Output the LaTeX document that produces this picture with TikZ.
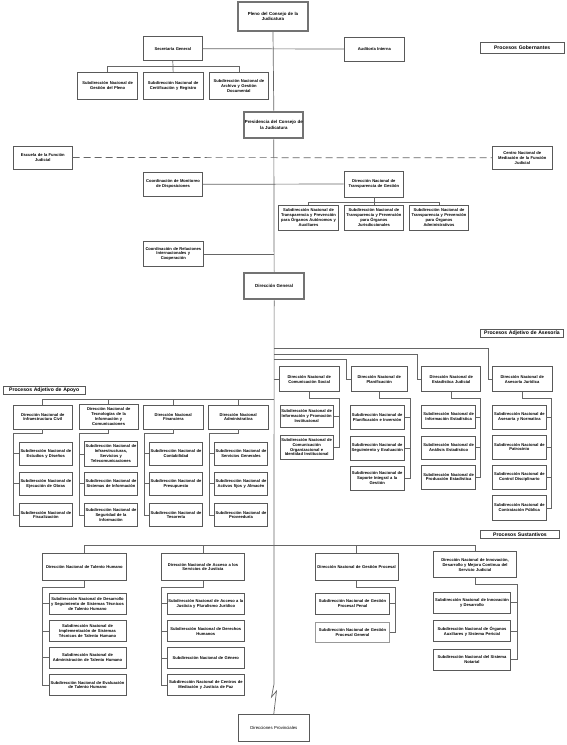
\documentclass[tikz,border=0pt]{standalone}
\usepackage{fontspec}
\setmainfont{Liberation Sans}
\tikzset{
  box/.style={draw=black!65, line width=0.8pt, fill=white, inner sep=0pt, align=center,
    font=\fontsize{4.1}{4.9}\selectfont\bfseries},
  bigbox/.style={box, line width=2pt, draw=black!55, font=\fontsize{4.4}{5.3}\selectfont\bfseries},
  lbl/.style={box, line width=0.6pt, font=\fontsize{5.1}{6}\selectfont\bfseries},
  plain/.style={font=\fontsize{4.3}{5}\selectfont},
  light/.style={draw=black!40},
  ln/.style={draw=black!60, line width=0.7pt},
  dashln/.style={ln, dash pattern=on 7pt off 4pt}
}
\newcommand\bx[7][]{%
  \pgfmathsetmacro\bxw{#5-#3}\pgfmathsetmacro\bxh{#6-#4}\pgfmathsetmacro\bxt{#5-#3-1}%
  \pgfmathsetmacro\bxcx{(#3+#5)/2}\pgfmathsetmacro\bxcy{(#4+#6)/2}%
  \node[box,#1,minimum width=\bxw pt,minimum height=\bxh pt,text width=\bxt pt] (#2) at (\bxcx,\bxcy) {#7};}
\begin{document}
\begin{tikzpicture}[x=1pt,y=-1pt]
\fill[white] (0,0) rectangle (567,745);
\useasboundingbox (0,0) rectangle (567,745);

% ---------- Gobernantes ----------
\bx[bigbox]{pleno}{238}{2}{308}{31}{Pleno del Consejo de la\\Judicatura}
\bx{sec}{143.3}{36.7}{202.3}{60.7}{Secretaría General}
\bx{aud}{344.3}{37}{404.3}{61}{Auditoría Interna}
\bx[lbl]{pgob}{480.3}{42.3}{564}{53.3}{Procesos Gobernantes}
\bx{s1}{77.7}{72.3}{137.7}{99}{Subdirección Nacional de\\Gestión del Pleno}
\bx{s2}{143.3}{72.3}{203}{99}{Subdirección Nacional de\\Certificación y Registro}
\bx{s3}{209}{72.3}{268.7}{99}{Subdirección Nacional de\\Archivo y Gestión\\Documental}

\bx[bigbox]{pres}{244.3}{111.7}{303.3}{138.3}{Presidencia del Consejo de\\la Judicatura}
\bx{esc}{13.3}{146}{72.3}{169}{Escuela de la Función\\Judicial}
\bx{cen}{492.7}{146.3}{552}{169.3}{Centro Nacional de\\Mediación de la Función\\Judicial}
\bx{cmd}{143.3}{172.3}{202.7}{196.3}{Coordinación de Monitoreo\\de Disposiciones}
\bx{dnt}{344}{171}{403.7}{197}{Dirección Nacional de\\Transparencia de Gestión}
\bx{t1}{278.7}{205.3}{338.3}{230}{Subdirección Nacional de\\Transparencia y Prevención\\para Órganos Autónomos y\\Auxiliares}
\bx{t2}{344}{205.3}{403.7}{230}{Subdirección Nacional de\\Transparencia y Prevención\\para Órganos\\Jurisdiccionales}
\bx{t3}{409.3}{205.3}{468.7}{230}{Subdirección Nacional de\\Transparencia y Prevención\\para Órganos\\Administrativos}
\bx{cri}{143.3}{241.7}{203.3}{266}{Coordinación de Relaciones\\Internacionales y\\Cooperación}
\bx[bigbox]{dg}{244.3}{272.7}{304}{299.3}{Dirección General}

% ---------- Asesoria ----------
\bx[lbl]{pase}{480.7}{329}{563.3}{337.3}{Procesos Adjetivo de Asesoría}
\bx{cs}{279.3}{366.7}{339}{391.7}{Dirección Nacional de\\Comunicación Social}
\bx{pl}{351}{366.7}{407.3}{391.7}{Dirección Nacional de\\Planificación}
\bx{es}{421.7}{366.7}{480.7}{391.7}{Dirección Nacional de\\Estadística Judicial}
\bx{aj}{492.3}{366.7}{552}{391.7}{Dirección Nacional de\\Asesoría Jurídica}

\bx{cs1}{280}{405}{333.3}{427.7}{Subdirección Nacional de\\Información y Promoción\\Institucional}
\bx{cs2}{280}{435}{333.3}{459.3}{Subdirección Nacional de\\Comunicación\\Organizacional e\\Identidad Institucional}
\bx{pl1}{350}{405}{404.3}{429.3}{Subdirección Nacional de\\Planificación e Inversión}
\bx{pl2}{350}{436}{404.3}{460}{Subdirección Nacional de\\Seguimiento y Evaluación}
\bx{pl3}{350}{466}{404.3}{490}{Subdirección Nacional de\\Soporte Integral a la\\Gestión}
\bx{es1}{421.7}{405}{475.7}{428.7}{Subdirección Nacional de\\Información Estadística}
\bx{es2}{421.7}{436}{475.7}{459}{Subdirección Nacional de\\Análisis Estadístico}
\bx{es3}{421.7}{465}{475.7}{489}{Subdirección Nacional de\\Producción Estadística}
\bx{aj1}{492.7}{405}{546}{429}{Subdirección Nacional de\\Asesoría y Normativa}
\bx{aj2}{492.7}{435}{546}{459}{Subdirección Nacional de\\Patrocinio}
\bx{aj3}{492.7}{465}{546}{489}{Subdirección Nacional de\\Control Disciplinario}
\bx{aj4}{492.7}{495.7}{546}{520}{Subdirección Nacional de\\Contratación Pública}

% ---------- Apoyo ----------
\bx[lbl]{papo}{3.3}{386.7}{85}{394.3}{Procesos Adjetivo de Apoyo}
\bx{ic}{13.3}{405}{72.3}{429}{Dirección Nacional de\\Infraestructura Civil}
\bx{ti}{79}{404.3}{138.3}{429.3}{Dirección Nacional de\\Tecnologías de la\\Información y\\Comunicaciones}
\bx{fi}{143.3}{405}{203.3}{429}{Dirección Nacional\\Financiera}
\bx{ad}{208.3}{405}{268.3}{429}{Dirección Nacional\\Administrativa}

\bx{ic1}{19.3}{442.3}{72.3}{465}{Subdirección Nacional de\\Estudios y Diseños}
\bx{ic2}{19.3}{472.3}{72.3}{495}{Subdirección Nacional de\\Ejecución de Obras}
\bx{ic3}{19.3}{503.3}{72.3}{526.7}{Subdirección Nacional de\\Fiscalización}
\bx{ti1}{84.3}{441.7}{137.7}{466}{Subdirección Nacional de\\Infraestructuras,\\Servicios y\\Telecomunicaciones}
\bx{ti2}{84.3}{472.3}{137.7}{495}{Subdirección Nacional de\\Sistemas de Información}
\bx{ti3}{84.3}{503.3}{137.7}{526.7}{Subdirección Nacional de\\Seguridad de la\\Información}
\bx{fi1}{149.3}{442.3}{202.7}{465}{Subdirección Nacional de\\Contabilidad}
\bx{fi2}{149.3}{472.3}{202.7}{495}{Subdirección Nacional de\\Presupuesto}
\bx{fi3}{149.3}{503.3}{202.7}{526.7}{Subdirección Nacional de\\Tesorería}
\bx{ad1}{214.3}{442.3}{267.7}{465}{Subdirección Nacional de\\Servicios Generales}
\bx{ad2}{214.3}{472.3}{267.7}{495}{Subdirección Nacional de\\Activos fijos y Almacén}
\bx{ad3}{214.3}{503.3}{267.7}{526.7}{Subdirección Nacional de\\Proveeduría}

% ---------- Sustantivos ----------
\bx[lbl]{psus}{480.7}{530.3}{559.3}{538.3}{Procesos Sustantivos}
\bx{th}{42.7}{553.3}{126}{580.7}{Dirección Nacional de Talento Humano}
\bx{ac}{161.7}{553.3}{244.3}{580.7}{Dirección Nacional de Acceso a los\\Servicios de Justicia}
\bx{gp}{315}{553.3}{398.3}{580.7}{Dirección Nacional de Gestión Procesal}
\bx{inn}{433.3}{551.7}{516.7}{577.7}{Dirección Nacional de Innovación,\\Desarrollo y Mejora Continua del\\Servicio Judicial}

\bx{th1}{49}{593.3}{126}{614}{Subdirección Nacional de Desarrollo\\y Seguimiento de Sistemas Técnicos\\de Talento Humano}
\bx{th2}{49}{620}{126}{641.7}{Subdirección Nacional de\\Implementación de Sistemas\\Técnicos de Talento Humano}
\bx{th3}{49}{647.3}{126}{668.3}{Subdirección Nacional de\\Administración de Talento Humano}
\bx{th4}{49}{674.3}{126}{695.7}{Subdirección Nacional de Evaluación\\de Talento Humano}
\bx{ac1}{167.3}{593.3}{244.3}{614.3}{Subdirección Nacional de Acceso a la\\Justicia y Pluralismo Jurídico}
\bx{ac2}{167.3}{620.7}{244.3}{641.7}{Subdirección Nacional de Derechos\\Humanos}
\bx{ac3}{167.3}{647.7}{244.3}{668.3}{Subdirección Nacional de Género}
\bx{ac4}{167.3}{674}{244.3}{695.7}{Subdirección Nacional de Centros de\\Mediación y Justicia de Paz}
\bx{gp1}{315.7}{593.3}{389.3}{614}{Subdirección Nacional de Gestión\\Procesal Penal}
\bx[light]{gp2}{315.7}{622.7}{389.3}{642.7}{Subdirección Nacional de Gestión\\Procesal General}
\bx{in1}{433.3}{592.3}{510.7}{613.3}{Subdirección Nacional de Innovación\\y Desarrollo}
\bx{in2}{433.3}{620.7}{510.7}{641.7}{Subdirección Nacional de Órganos\\Auxiliares y Sistema Pericial}
\bx{in3}{433.3}{649}{510.7}{670}{Subdirección Nacional del Sistema\\Notarial}

\bx[plain]{prov}{238.3}{714.3}{309.3}{741}{Direcciones Provinciales}

% ---------- coordinates ----------
\coordinate (z1) at (274,684);
\coordinate (z2) at (271.5,697);
\coordinate (z3) at (276.5,691);
\coordinate (m1) at (274,348.3);
\coordinate (m2) at (274,354);
\coordinate (m3) at (274,359.7);
\coordinate (csb) at (339,398.3);
\coordinate (plb) at (410,398.3);
\coordinate (esb) at (480.7,398.3);
\coordinate (ajb) at (551.7,398.3);
\coordinate (apb) at (274,399);
\coordinate (icb) at (13.3,433.3);
\coordinate (tib) at (79,433.3);
\coordinate (fib) at (144,433.3);
\coordinate (adb) at (209,433.3);
\coordinate (susb) at (475,545.7);
\coordinate (thb) at (42.7,587.3);
\coordinate (acb) at (161.7,587.3);
\coordinate (gpb) at (395.7,587.3);
\coordinate (inb) at (517.3,584);

% main spine
\draw[ln] (pleno.south) -- (pres.north);
\draw[ln] (pres.south) -- (dg.north);
\draw[ln] (dg.south) -- (z1) -- (z2) -- (z3) -- (prov.north);
% gobernantes
\draw[ln] (sec.east) -- (aud.west);
\draw[ln] (s1.north) |- ([yshift=-5pt]sec.south) -| (s3.north);
\draw[ln] (sec.south) -- (s2.north);
\draw[dashln] (esc.east) -- (cen.west);
\draw[ln] (cmd.east) -- (dnt.west);
\draw[ln] (t1.north) |- ([yshift=-5pt]dnt.south) -| (t3.north);
\draw[ln] (dnt.south) -- (t2.north);
\draw[ln] (cri.east) -- (cri.east -| dg.north);
% asesoria
\draw[ln] (m1) -| ([xshift=-4pt]aj.west) -- (aj.west);
\draw[ln] (m2) -| ([xshift=-4pt]es.west) -- (es.west);
\draw[ln] (m3) -| ([xshift=-4pt]pl.west) -- (pl.west);
\draw[ln] (cs.west) -- (cs.west -| dg.south);
\draw[ln] (cs.south) |- (csb) |- (cs2.east);
\draw[ln] (cs1.east) -- (cs1.east -| csb);
\draw[ln] (pl.south) |- (plb) |- (pl3.east);
\foreach \c in {pl1,pl2} \draw[ln] (\c.east) -- (\c.east -| plb);
\draw[ln] (es.south) |- (esb) |- (es3.east);
\foreach \c in {es1,es2} \draw[ln] (\c.east) -- (\c.east -| esb);
\draw[ln] (aj.south) |- (ajb) |- (aj4.east);
\foreach \c in {aj1,aj2,aj3} \draw[ln] (\c.east) -- (\c.east -| ajb);
% apoyo
\draw[ln] (ic.north) |- (apb);
\foreach \c in {ti,fi,ad} \draw[ln] (\c.north) -- (\c.north |- apb);
\draw[ln] (ic.south) |- (icb) |- (ic3.west);
\foreach \c in {ic1,ic2} \draw[ln] (\c.west) -- (\c.west -| icb);
\draw[ln] (ti.south) |- (tib) |- (ti3.west);
\foreach \c in {ti1,ti2} \draw[ln] (\c.west) -- (\c.west -| tib);
\draw[ln] (fi.south) |- (fib) |- (fi3.west);
\foreach \c in {fi1,fi2} \draw[ln] (\c.west) -- (\c.west -| fib);
\draw[ln] (ad.south) |- (adb) |- (ad3.west);
\foreach \c in {ad1,ad2} \draw[ln] (\c.west) -- (\c.west -| adb);
% sustantivos
\draw[ln] (th.north) |- (susb) -- (inn.north);
\foreach \c in {ac,gp} \draw[ln] (\c.north) -- (\c.north |- susb);
\draw[ln] (th.south) |- (thb) |- (th4.west);
\foreach \c in {th1,th2,th3} \draw[ln] (\c.west) -- (\c.west -| thb);
\draw[ln] (ac.south) |- (acb) |- (ac4.west);
\foreach \c in {ac1,ac2,ac3} \draw[ln] (\c.west) -- (\c.west -| acb);
\draw[ln] (gp.south) |- (gpb) |- (gp2.east);
\draw[ln] (gp1.east) -- (gp1.east -| gpb);
\draw[ln] (inn.south) |- (inb) |- (in3.east);
\foreach \c in {in1,in2} \draw[ln] (\c.east) -- (\c.east -| inb);
\end{tikzpicture}
\end{document}
